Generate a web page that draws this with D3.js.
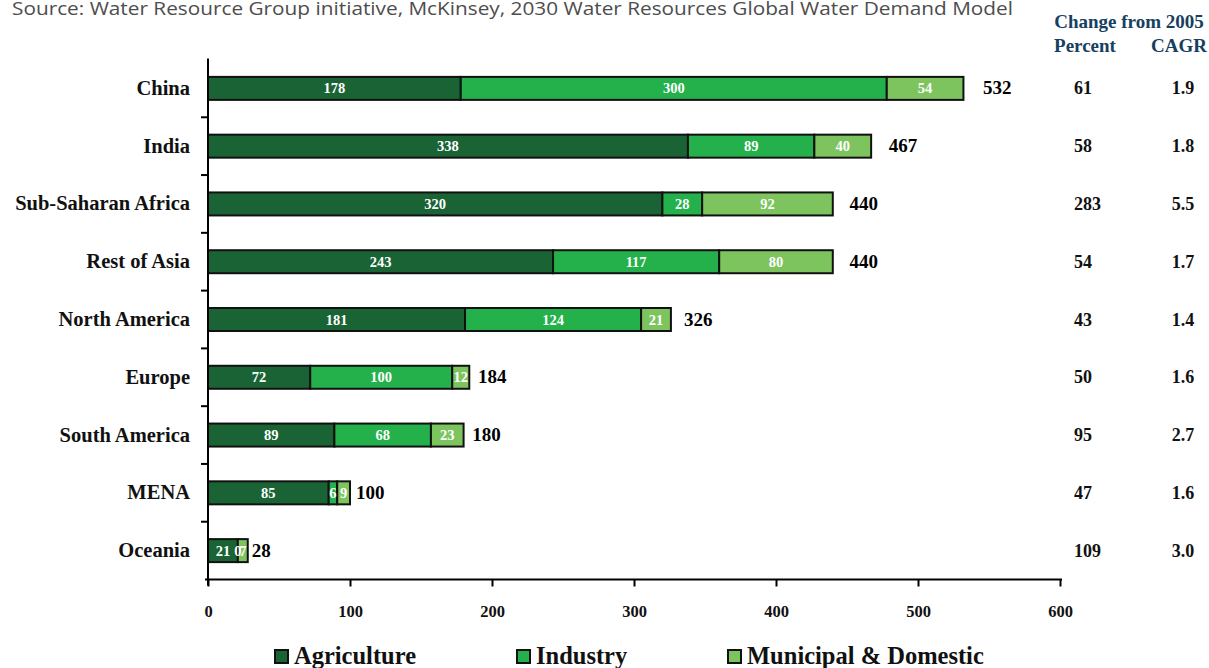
<!DOCTYPE html>
<html>
<head>
<meta charset="utf-8">
<script src="https://cdn.jsdelivr.net/npm/d3@7"></script>
<style>
  html, body { margin: 0; padding: 0; background: #fff; }
  svg { display: block; }
  text { font-family: "Liberation Serif", "Times New Roman", serif; font-weight: bold; }
</style>
</head>
<body>
<svg id="chart" width="1209" height="668"></svg>
<script>
// Water demand by region in 2030 (billion m3), split by sector
const regions = ["China", "India", "Sub-Saharan Africa", "Rest of Asia", "North America",
                 "Europe", "South America", "MENA", "Oceania"];
const agriculture = [178, 338, 320, 243, 181, 72, 89, 85, 21];
const industry    = [300, 89, 28, 117, 124, 100, 68, 6, 0];
const municipal   = [54, 40, 92, 80, 21, 12, 23, 9, 7];
const totals      = [532, 467, 440, 440, 326, 184, 180, 100, 28];
const changePct   = ["61", "58", "283", "54", "43", "50", "95", "47", "109"];
const cagr        = ["1.9", "1.8", "5.5", "1.7", "1.4", "1.6", "2.7", "1.6", "3.0"];
const sectors     = ["Agriculture", "Industry", "Municipal & Domestic"];
const xTicks      = [0, 100, 200, 300, 400, 500, 600];
const sourceNote  = "Source: Water Resource Group initiative, McKinsey, 2030 Water Resources Global Water Demand Model";

const colors = { "Agriculture": "#1a6334", "Industry": "#24b04b", "Municipal & Domestic": "#7dc45f" };

const svg = d3.select("#chart");
const plotLeft = 208, plotRight = 1060, plotTop = 59.5, plotBottom = 579.5;

const x = d3.scaleLinear().domain([0, 600]).range([plotLeft, plotRight]);
const y = d3.scaleBand().domain(regions).range([plotTop, plotBottom]).paddingInner(0).paddingOuter(0);
const barH = 23;

// rows for stacking
const rows = regions.map((r, i) => ({
  region: r,
  "Agriculture": agriculture[i],
  "Industry": industry[i],
  "Municipal & Domestic": municipal[i]
}));
const stacked = d3.stack().keys(sectors)(rows);
const segments = stacked.flatMap(layer => layer.map(s => ({ s, key: layer.key })));

// source line
svg.append("text")
  .attr("x", 12).attr("y", 15)
  .attr("textLength", 1001).attr("lengthAdjust", "spacingAndGlyphs")
  .style("font-family", "'Open Sans', 'DejaVu Sans', sans-serif")
  .style("font-weight", "normal")
  .style("font-size", "18px")
  .style("fill", "#4d4d4d")
  .text(sourceNote);

// column headers
const headColor = "#17405f";
svg.append("text").attr("x", 1129).attr("y", 28).attr("text-anchor", "middle")
  .style("font-size", "19px").style("fill", headColor).text("Change from 2005");
svg.append("text").attr("x", 1085).attr("y", 52).attr("text-anchor", "middle")
  .style("font-size", "19px").style("fill", headColor).text("Percent");
svg.append("text").attr("x", 1179).attr("y", 52).attr("text-anchor", "middle")
  .style("font-size", "19px").style("fill", headColor).text("CAGR");

// bars
svg.append("g").selectAll("rect").data(segments).join("rect")
  .attr("x", d => x(d.s[0]))
  .attr("y", d => y(d.s.data.region) + y.bandwidth() / 2 - barH / 2)
  .attr("width", d => x(d.s[1]) - x(d.s[0]))
  .attr("height", barH)
  .attr("fill", d => colors[d.key])
  .attr("stroke", "#111")
  .attr("stroke-width", 2);

// segment labels, drawn above every bar
svg.append("g").selectAll("text").data(segments).join("text")
  .attr("x", d => (x(d.s[0]) + x(d.s[1])) / 2)
  .attr("y", d => y(d.s.data.region) + y.bandwidth() / 2 + 5)
  .attr("text-anchor", "middle")
  .style("font-size", "14.5px")
  .style("fill", "#fff")
  .text(d => d.s[1] - d.s[0]);

// totals
svg.append("g").selectAll("text").data(regions).join("text")
  .attr("x", (r, i) => x(totals[i]) + 3 + (x(totals[i]) - x(0)) * 0.022)
  .attr("y", r => y(r) + y.bandwidth() / 2 + 6)
  .style("font-size", "19px").style("fill", "#000")
  .text((r, i) => totals[i]);

// region labels
svg.append("g").selectAll("text").data(regions).join("text")
  .attr("x", 190)
  .attr("y", r => y(r) + y.bandwidth() / 2 + 6.5)
  .attr("text-anchor", "end")
  .style("font-size", "20.5px").style("fill", "#111")
  .text(r => r);

// change columns
svg.append("g").selectAll("text").data(regions).join("text")
  .attr("x", 1074)
  .attr("y", r => y(r) + y.bandwidth() / 2 + 6)
  .style("font-size", "18px").style("fill", "#111")
  .text((r, i) => changePct[i]);
svg.append("g").selectAll("text").data(regions).join("text")
  .attr("x", 1183)
  .attr("y", r => y(r) + y.bandwidth() / 2 + 6)
  .attr("text-anchor", "middle")
  .style("font-size", "18px").style("fill", "#111")
  .text((r, i) => cagr[i]);

// y axis: line with ticks at band boundaries
const yAxis = svg.append("g");
yAxis.append("line").attr("x1", plotLeft).attr("x2", plotLeft).attr("y1", plotTop - 1).attr("y2", plotBottom + 6)
  .attr("stroke", "#000").attr("stroke-width", 2);
yAxis.selectAll("line.tick").data(regions.slice(1)).join("line").attr("class", "tick")
  .attr("x1", plotLeft - 7).attr("x2", plotLeft)
  .attr("y1", r => y(r)).attr("y2", r => y(r))
  .attr("stroke", "#000").attr("stroke-width", 2);

// x axis
const xAxis = svg.append("g").attr("transform", `translate(0,${plotBottom})`)
  .call(d3.axisBottom(x).tickValues(xTicks).tickSize(7).tickPadding(19).tickSizeOuter(0));
xAxis.select(".domain").attr("stroke", "#000").attr("stroke-width", 2)
  .attr("d", `M${plotLeft - 3},0H${plotRight + 2}`);
xAxis.selectAll(".tick line").attr("stroke", "#000").attr("stroke-width", 2);
xAxis.selectAll(".tick text")
  .style("font-family", "'Liberation Serif', 'Times New Roman', serif")
  .style("font-weight", "bold").style("font-size", "16.5px").style("fill", "#111");

// legend
const legendX = [274, 516, 727];
const legend = svg.append("g").selectAll("g").data(sectors).join("g")
  .attr("transform", (d, i) => `translate(${legendX[i]},649)`);
legend.append("rect").attr("x", 1).attr("y", 1).attr("width", 13).attr("height", 13)
  .attr("fill", d => colors[d]).attr("stroke", "#111").attr("stroke-width", 2);
legend.append("text").attr("x", 20).attr("y", 15)
  .style("font-size", "24.5px").style("fill", "#111")
  .text(d => d);
</script>
</body>
</html>
